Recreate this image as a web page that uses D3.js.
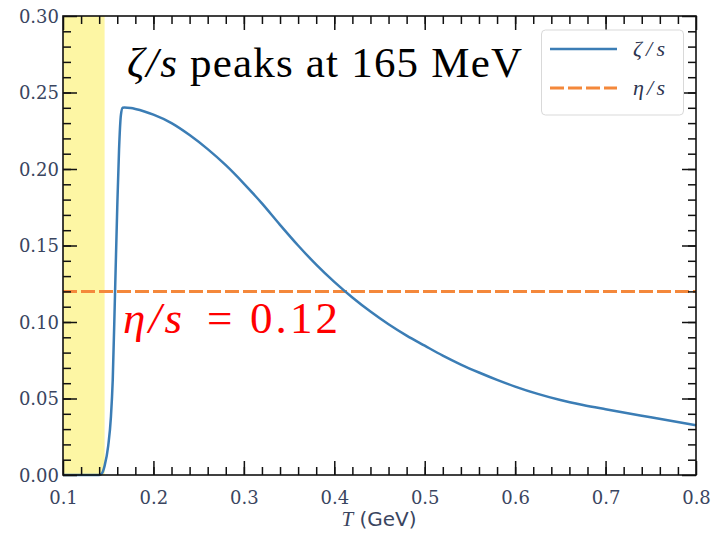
<!DOCTYPE html>
<html><head><meta charset="utf-8">
<script src="https://cdn.jsdelivr.net/npm/d3@7"></script>
<style>
html,body{margin:0;padding:0;background:#fff;}
svg{display:block;}
.serif{font-family:"Liberation Serif","DejaVu Serif","Times New Roman",serif;}
.tick text{font-family:"DejaVu Serif","Liberation Serif",serif;}
.sans{font-family:"DejaVu Sans",sans-serif;}
</style></head>
<body>
<svg id="chart" width="713" height="533"></svg>
<script>
// ---- data ----
const temperature = [0.100,0.120,0.140,0.143,0.146,0.150,0.153,0.155,0.1575,0.160,0.162,0.164,0.166,0.168,0.175,0.180,0.190,0.200,0.220,0.240,0.260,0.280,0.300,0.320,0.340,0.360,0.380,0.400,0.420,0.440,0.460,0.480,0.500,0.520,0.540,0.560,0.580,0.600,0.625,0.650,0.675,0.700,0.750,0.800];
const zetaOverS   = [0,0,0,0.001,0.006,0.019,0.038,0.062,0.118,0.175,0.213,0.235,0.2400,0.2402,0.2398,0.2392,0.2376,0.2355,0.2300,0.2222,0.2130,0.2025,0.1905,0.1775,0.1635,0.1500,0.1375,0.1262,0.1160,0.1068,0.0985,0.0911,0.0845,0.0780,0.0722,0.0670,0.0622,0.0578,0.0530,0.0490,0.0458,0.0430,0.0377,0.0325];
const etaOverS = 0.12;
const hadronBand = [0.1, 0.146];
const xTicks = [0.1,0.2,0.3,0.4,0.5,0.6,0.7,0.8];
const yTicks = [0.00,0.05,0.10,0.15,0.20,0.25,0.30];
const xMinor = d3.range(0.12, 0.8, 0.02);
const yMinor = d3.range(0.01, 0.30, 0.01);

// ---- layout ----
const svg = d3.select("#chart");
const L = 63, R = 696, T = 16, B = 475;
const x = d3.scaleLinear().domain([0.1, 0.8]).range([L, R]);
const y = d3.scaleLinear().domain([0, 0.30]).range([B, T]);
const blue = "#3b7db5", orange = "#f4883b";
const tickColor = "#3a4560";

// yellow band
svg.append("rect")
  .attr("x", x(hadronBand[0])).attr("y", T)
  .attr("width", x(hadronBand[1]) - x(hadronBand[0])).attr("height", B - T)
  .attr("fill", "#fdf6a4");

// eta/s dashed line
svg.append("line")
  .attr("x1", x(0.1)).attr("x2", x(0.8))
  .attr("y1", y(etaOverS)).attr("y2", y(etaOverS))
  .attr("stroke", orange).attr("stroke-width", 3)
  .attr("stroke-dasharray", "14 4");

// zeta/s curve
const line = d3.line().x((d,i) => x(temperature[i])).y(d => y(d)).curve(d3.curveMonotoneX);
svg.append("path").datum(zetaOverS)
  .attr("d", line).attr("fill", "none")
  .attr("stroke", blue).attr("stroke-width", 2.5);

// axes with inward ticks
function mk(axisFn, scale, vals, size, fmt) {
  return axisFn(scale).tickValues(vals).tickSize(-size).tickSizeOuter(0).tickFormat(fmt);
}
const none = () => "";
const gB = svg.append("g").attr("transform", `translate(0,${B})`)
  .call(mk(d3.axisBottom, x, xTicks, 14, d3.format(".1f")));
svg.append("g").attr("transform", `translate(0,${B})`).call(mk(d3.axisBottom, x, xMinor, 8, none));
svg.append("g").attr("transform", `translate(0,${T})`).call(mk(d3.axisTop, x, xTicks, 14, none));
svg.append("g").attr("transform", `translate(0,${T})`).call(mk(d3.axisTop, x, xMinor, 8, none));
const gL = svg.append("g").attr("transform", `translate(${L},0)`)
  .call(mk(d3.axisLeft, y, yTicks, 14, d3.format(".2f")));
svg.append("g").attr("transform", `translate(${L},0)`).call(mk(d3.axisLeft, y, yMinor, 8, none));
svg.append("g").attr("transform", `translate(${R},0)`).call(mk(d3.axisRight, y, yTicks, 14, none));
svg.append("g").attr("transform", `translate(${R},0)`).call(mk(d3.axisRight, y, yMinor, 8, none));

svg.selectAll(".domain").remove();
svg.selectAll("g").attr("font-family", null).attr("font-size", null);
svg.selectAll(".tick line").attr("stroke", "#111").attr("stroke-width", 1.5);
gB.selectAll("text").style("font-size", "18px")
  .attr("fill", tickColor).attr("dy", null).attr("y", 0)
  .attr("transform", "translate(0,29)");
gL.selectAll("text").style("font-size", "18px")
  .attr("fill", tickColor).attr("x", -4).attr("dy", "0.36em");

// frame
svg.append("rect").attr("x", L).attr("y", T).attr("width", R - L).attr("height", B - T)
  .attr("fill", "none").attr("stroke", "#111").attr("stroke-width", 1.6);

// x label
const xl = svg.append("text").attr("x", 379).attr("y", 526)
  .attr("text-anchor", "middle").attr("fill", tickColor).style("font-size", "21px");
xl.append("tspan").attr("class", "serif").style("font-style", "italic").text("T");
xl.append("tspan").attr("class", "sans").style("font-size", "20px").text(" (GeV)");

// legend
const lg = svg.append("g");
lg.append("rect").attr("x", 541.5).attr("y", 30).attr("width", 142).attr("height", 85)
  .attr("rx", 4).attr("fill", "#fff").attr("stroke", "#d9d9d9").attr("stroke-width", 1);
lg.append("line").attr("x1", 550).attr("x2", 617).attr("y1", 49).attr("y2", 49)
  .attr("stroke", blue).attr("stroke-width", 2.5);
lg.append("line").attr("x1", 550).attr("x2", 617).attr("y1", 88).attr("y2", 88)
  .attr("stroke", orange).attr("stroke-width", 3).attr("stroke-dasharray", "14 4");
const legLabels = [["ζ", 56], ["η", 95]];
legLabels.forEach(([g, yy]) => {
  lg.append("text").attr("class", "serif").attr("x", 633).attr("y", yy)
    .attr("textLength", 32).attr("lengthAdjust", "spacing")
    .style("font-style", "italic").style("font-size", "22px")
    .attr("fill", "#2d3550").text(g + "/s");
});

// annotation: zeta/s peaks
const a1 = svg.append("text").attr("class", "serif").attr("y", 77)
  .style("font-size", "43px").attr("fill", "#000");
a1.append("tspan").attr("x", 127).attr("textLength", 50).attr("lengthAdjust", "spacing")
  .style("font-style", "italic").text("ζ/s");
a1.append("tspan").attr("x", 190).attr("textLength", 332).attr("lengthAdjust", "spacing")
  .text("peaks at 165 MeV");

// annotation: eta/s = 0.12
const a2 = svg.append("text").attr("class", "serif").attr("y", 333)
  .style("font-size", "45px").attr("fill", "#ff0000");
a2.append("tspan").attr("x", 123).attr("textLength", 59).attr("lengthAdjust", "spacing")
  .style("font-style", "italic").text("η/s");
a2.append("tspan").attr("x", 207).text("=");
a2.append("tspan").attr("x", 250).attr("textLength", 88).attr("lengthAdjust", "spacing").text("0.12");
</script>
</body></html>
